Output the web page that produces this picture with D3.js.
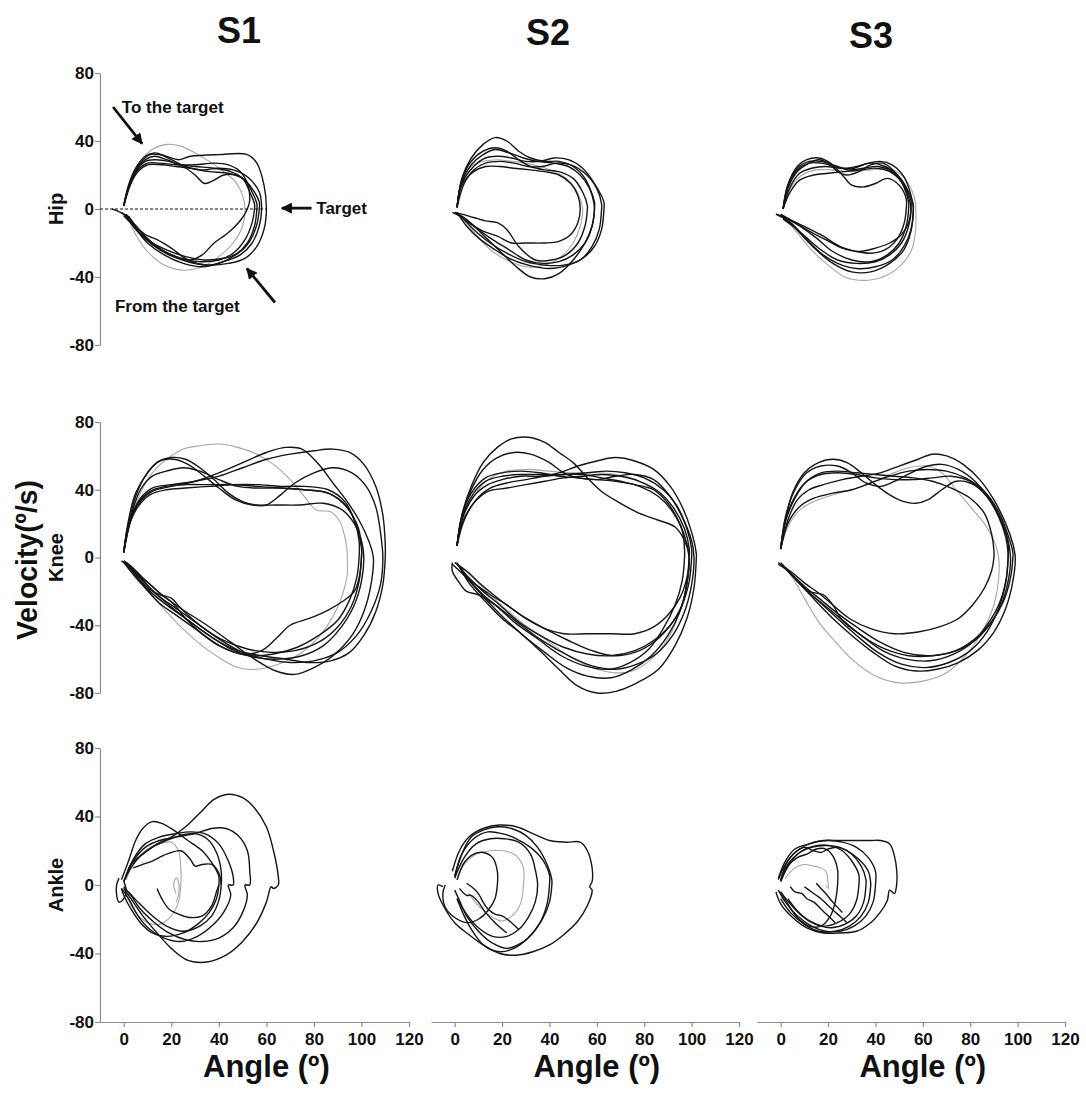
<!DOCTYPE html>
<html>
<head>
<meta charset="utf-8">
<script src="https://cdn.jsdelivr.net/npm/d3@7"></script>
<style>
  body { margin: 0; background: #fff; }
  text { font-family: "Liberation Sans", Arial, sans-serif; font-weight: bold; fill: #111; }
</style>
</head>
<body>
<svg id="chart" width="1086" height="1097"></svg>
<script>
// ---- data (angle in deg, velocity in deg/s) ----
var subjects = ["S1", "S2", "S3"];
var joints = ["Hip", "Knee", "Ankle"];
var angleTicks = [0, 20, 40, 60, 80, 100, 120];
var velocityTicks = [-80, -40, 0, 40, 80];

var hipS1 = [
  [[0,2],[2,12],[5,22],[9,29],[13,31],[18,29],[24,26],[30,25],[38,24],[45,22],[50,18],[53,10],[55,3],[55,0],[54,-8],[51,-18],[46,-26],[40,-30],[32,-31],[24,-29],[16,-24],[9,-16],[4,-8],[1,-3]],
  [[0,2],[2,14],[5,24],[9,31],[13,33],[18,31],[23,29],[28,31],[40,32],[52,32],[56,27],[59,14],[60,0],[59,-12],[56,-22],[51,-29],[44,-32],[36,-33],[27,-31],[19,-27],[12,-21],[6,-13],[2,-5],[0,-3]],
  [[0,2],[2,13],[5,22],[9,28],[13,29],[19,28],[25,25],[30,20],[34,15],[38,17],[42,20],[47,20],[51,17],[54,10],[56,3],[56,0],[55,-10],[52,-20],[47,-27],[40,-32],[33,-34],[25,-32],[17,-27],[10,-20],[4,-10],[0,-4]],
  [[0,2],[3,15],[6,23],[10,27],[15,27],[22,26],[30,26],[38,27],[44,26],[49,22],[52,15],[53,5],[52,0],[50,-5],[47,-10],[43,-15],[38,-20],[33,-27],[28,-30],[22,-28],[16,-24],[10,-18],[5,-12],[1,-4],[-3,-1],[-5,0]],
  [[0,2],[3,17],[7,27],[11,32],[15,32],[20,29],[26,25],[32,23],[40,24],[46,23],[52,19],[57,10],[58,0],[57,-10],[54,-20],[49,-27],[42,-31],[35,-33],[27,-30],[20,-23],[14,-18],[9,-15],[5,-10],[2,-4]],
  [[0,2],[2,12],[6,22],[10,26],[16,26],[22,25],[28,24],[36,22],[44,21],[50,18],[54,12],[57,4],[57,0],[56,-9],[53,-19],[48,-26],[42,-29],[34,-30],[26,-28],[18,-24],[11,-19],[6,-13],[2,-6],[-1,-2]]
];
var hipS1Gray = [
  [[0,2],[3,16],[7,28],[12,35],[18,38],[24,37],[30,33],[36,28],[42,22],[47,16],[50,8],[51,0],[50,-10],[46,-20],[40,-28],[33,-34],[25,-36],[17,-33],[10,-25],[5,-15],[2,-6]]
];

var hipS2 = [
  [[1,1],[3,18],[7,30],[12,38],[17,42],[22,40],[27,34],[32,30],[38,28],[44,28],[50,25],[55,18],[58,8],[59,0],[58,-10],[55,-20],[50,-30],[44,-38],[38,-41],[32,-40],[26,-34],[20,-26],[14,-18],[8,-10],[3,-5],[1,-3]],
  [[1,1],[3,16],[7,26],[12,32],[17,35],[23,33],[29,30],[35,28],[42,27],[48,25],[53,20],[57,12],[59,4],[59,0],[58,-10],[55,-20],[50,-27],[44,-31],[37,-32],[30,-30],[23,-24],[16,-18],[9,-11],[4,-5],[0,-2]],
  [[1,1],[4,15],[8,23],[13,27],[19,28],[25,27],[31,25],[37,25],[43,27],[49,26],[55,21],[60,12],[62,3],[62,0],[61,-12],[58,-22],[53,-30],[46,-33],[38,-33],[30,-31],[22,-26],[15,-20],[8,-12],[3,-5],[-1,-2]],
  [[1,1],[3,14],[8,22],[13,25],[19,25],[25,24],[32,23],[38,22],[44,20],[49,15],[52,8],[53,0],[52,-8],[49,-15],[44,-19],[38,-20],[30,-20],[24,-20],[18,-16],[12,-13],[7,-9],[3,-5],[1,-2]],
  [[1,1],[3,17],[7,28],[12,34],[17,36],[22,34],[27,29],[32,25],[38,23],[44,22],[50,18],[54,10],[56,2],[56,0],[55,-10],[52,-20],[47,-27],[41,-30],[34,-30],[27,-22],[22,-12],[18,-8],[13,-7],[8,-5],[3,-3],[0,-2]],
  [[1,1],[3,15],[8,25],[13,30],[18,31],[24,30],[30,28],[36,28],[42,30],[48,29],[54,24],[59,15],[63,4],[63,0],[62,-12],[59,-22],[54,-29],[48,-33],[40,-35],[31,-33],[23,-29],[16,-23],[10,-17],[5,-10],[2,-4]]
];
var hipS2Gray = [
  [[1,1],[3,16],[7,25],[12,28],[18,29],[24,28],[30,27],[36,25],[42,22],[48,17],[52,9],[54,0],[53,-10],[50,-20],[45,-28],[38,-33],[30,-34],[22,-30],[15,-24],[9,-15],[4,-7],[1,-3]]
];

var hipS3 = [
  [[1,0],[3,12],[7,22],[12,27],[16,29],[20,27],[24,22],[28,20],[33,22],[38,26],[43,27],[48,22],[52,13],[54,4],[54,0],[53,-10],[50,-20],[45,-27],[38,-31],[30,-30],[22,-25],[15,-17],[8,-10],[2,-5],[-2,-3]],
  [[1,0],[3,14],[7,25],[11,29],[16,30],[21,27],[26,20],[30,14],[35,13],[40,15],[45,18],[50,14],[53,6],[53,0],[52,-9],[49,-18],[44,-24],[38,-26],[32,-25],[25,-22],[18,-16],[11,-11],[5,-7],[0,-3]],
  [[1,0],[4,13],[8,21],[13,24],[19,25],[25,24],[31,24],[37,27],[42,28],[47,26],[52,19],[55,8],[56,0],[55,-12],[52,-22],[47,-30],[40,-34],[32,-35],[24,-32],[17,-26],[11,-18],[5,-9],[0,-4]],
  [[1,0],[4,10],[8,17],[14,20],[20,21],[27,22],[34,23],[40,24],[46,22],[51,16],[54,7],[55,0],[54,-10],[51,-20],[46,-27],[40,-31],[32,-32],[24,-30],[17,-24],[11,-17],[6,-11],[1,-6]],
  [[1,0],[3,13],[7,23],[12,27],[17,27],[23,25],[29,23],[35,24],[41,25],[47,22],[52,14],[55,5],[55,0],[54,-8],[51,-15],[46,-20],[40,-23],[33,-25],[26,-23],[19,-18],[12,-13],[6,-8],[1,-5]],
  [[1,0],[3,14],[7,24],[12,28],[17,28],[22,26],[27,24],[32,25],[38,27],[44,25],[50,19],[54,10],[56,2],[56,0],[55,-13],[52,-24],[46,-32],[38,-37],[30,-37],[22,-32],[15,-24],[8,-14],[3,-7],[-2,-3]]
];
var hipS3Gray = [
  [[1,0],[4,12],[9,20],[15,23],[22,23],[30,22],[38,23],[45,24],[51,20],[55,12],[57,3],[57,0],[57,-12],[55,-25],[50,-34],[43,-40],[35,-42],[27,-40],[20,-33],[13,-24],[7,-14],[2,-6]]
];

var kneeS1 = [
  [[0,3],[2,20],[5,36],[9,48],[14,56],[20,59],[26,58],[32,53],[38,46],[44,38],[50,33],[56,31],[64,31],[74,31],[84,32],[92,28],[97,20],[100,10],[101,0],[100,-14],[97,-28],[91,-42],[84,-52],[75,-58],[65,-60],[55,-59],[45,-54],[35,-45],[26,-36],[18,-28],[11,-20],[5,-11],[1,-4],[-1,-2]],
  [[0,3],[2,22],[5,38],[10,50],[15,57],[21,58],[27,55],[33,49],[40,41],[47,34],[54,31],[60,31],[66,37],[72,44],[80,50],[88,53],[96,50],[102,42],[106,30],[108,15],[109,0],[108,-16],[104,-32],[98,-46],[90,-56],[80,-61],[70,-62],[60,-60],[50,-56],[40,-48],[30,-38],[22,-30],[14,-22],[7,-12],[2,-5],[0,-2]],
  [[0,3],[3,22],[7,33],[12,39],[20,42],[30,45],[40,50],[50,56],[60,62],[68,65],[75,64],[82,55],[88,44],[94,33],[99,22],[103,10],[105,0],[104,-16],[101,-32],[96,-46],[88,-58],[80,-65],[72,-69],[64,-67],[55,-60],[45,-50],[35,-40],[25,-31],[16,-22],[8,-12],[3,-5],[0,-2]],
  [[0,3],[3,23],[7,35],[12,41],[20,43],[30,45],[40,48],[50,53],[60,58],[70,61],[80,63],[88,64],[95,62],[101,55],[106,42],[109,25],[110,8],[110,0],[109,-16],[106,-32],[101,-46],[95,-56],[87,-61],[78,-62],[68,-60],[58,-58],[48,-55],[38,-48],[28,-38],[19,-28],[11,-18],[5,-9],[1,-3]],
  [[0,3],[2,20],[6,32],[11,39],[18,42],[26,43],[36,43],[46,43],[56,42],[66,41],[76,40],[86,38],[93,31],[98,20],[100,8],[100,0],[99,-14],[96,-28],[90,-41],[82,-50],[72,-55],[62,-56],[52,-54],[42,-49],[32,-40],[24,-30],[20,-24],[16,-22],[12,-17],[6,-10],[1,-3]],
  [[0,3],[3,24],[7,40],[12,48],[18,51],[25,53],[32,51],[40,46],[48,42],[56,41],[66,41],[76,40],[86,38],[94,30],[98,18],[100,6],[100,0],[99,-12],[97,-20],[92,-26],[86,-31],[78,-36],[70,-40],[64,-48],[58,-55],[50,-57],[40,-52],[30,-42],[22,-34],[15,-27],[9,-18],[4,-10],[0,-3]],
  [[0,3],[2,18],[6,30],[11,37],[18,40],[26,41],[36,42],[46,43],[56,43],[66,42],[76,42],[86,40],[93,33],[97,22],[99,10],[99,0],[98,-12],[95,-25],[90,-37],[82,-46],[73,-53],[63,-57],[53,-58],[43,-54],[33,-45],[26,-36],[22,-29],[18,-24],[11,-19],[5,-10],[1,-3]]
];
var kneeS1Gray = [
  [[0,3],[3,22],[7,38],[12,50],[18,58],[25,64],[32,66],[40,67],[48,65],[56,61],[63,55],[70,46],[76,36],[81,28],[87,27],[91,21],[93,12],[94,4],[94,0],[94,-10],[92,-22],[88,-35],[82,-47],[74,-57],[65,-63],[56,-66],[48,-65],[40,-59],[32,-51],[24,-41],[16,-29],[9,-18],[4,-9],[0,-3]]
];

var kneeS2 = [
  [[1,7],[3,25],[7,42],[12,56],[18,65],[24,70],[31,71],[38,68],[44,62],[50,56],[56,47],[62,39],[70,32],[78,26],[86,22],[93,18],[97,10],[99,0],[98,-14],[96,-28],[91,-40],[84,-50],[76,-56],[67,-58],[58,-55],[48,-49],[38,-42],[28,-34],[20,-26],[12,-17],[5,-8],[0,-3]],
  [[1,7],[3,24],[7,40],[12,52],[18,59],[25,62],[32,61],[40,56],[46,50],[52,47],[60,46],[68,48],[76,49],[84,46],[91,36],[96,24],[100,10],[101,0],[100,-16],[97,-32],[92,-46],[85,-57],[77,-63],[68,-66],[58,-64],[48,-58],[38,-50],[28,-40],[20,-31],[12,-22],[5,-12],[-1,-4]],
  [[1,7],[3,22],[8,36],[14,43],[20,46],[28,48],[36,48],[44,50],[52,54],[60,57],[68,59],[76,57],[84,52],[91,42],[96,30],[100,15],[102,2],[102,0],[101,-18],[98,-36],[93,-52],[86,-66],[77,-74],[68,-79],[60,-80],[52,-76],[44,-66],[36,-55],[28,-45],[20,-36],[13,-26],[6,-15],[2,-5]],
  [[1,7],[3,23],[8,38],[13,45],[20,48],[28,49],[36,49],[46,49],[56,50],[64,51],[72,50],[80,47],[88,40],[94,30],[98,17],[100,5],[100,0],[99,-14],[96,-28],[91,-40],[84,-49],[76,-55],[66,-58],[56,-57],[46,-53],[36,-46],[27,-38],[19,-28],[12,-20],[6,-12],[1,-4]],
  [[1,7],[3,20],[8,32],[14,39],[22,41],[30,43],[38,45],[46,47],[54,48],[62,49],[70,48],[78,45],[86,39],[92,30],[97,17],[99,5],[99,0],[98,-12],[95,-24],[90,-34],[84,-41],[76,-45],[66,-45],[56,-45],[46,-45],[38,-42],[30,-36],[22,-28],[15,-22],[8,-15],[3,-8],[1,-3]],
  [[1,7],[4,22],[9,34],[15,41],[22,44],[30,46],[38,48],[46,49],[54,49],[62,47],[70,45],[78,42],[86,36],[92,27],[96,16],[97,5],[97,0],[96,-14],[93,-28],[88,-42],[82,-54],[74,-62],[65,-66],[55,-64],[45,-58],[35,-48],[25,-38],[17,-28],[10,-22],[5,-20],[2,-15],[-1,-8],[-1,-3]],
  [[1,7],[3,24],[7,38],[13,47],[20,50],[28,51],[36,50],[44,48],[52,47],[60,46],[68,45],[76,43],[84,40],[90,32],[95,20],[98,8],[99,0],[98,-16],[95,-32],[90,-46],[83,-58],[75,-66],[66,-71],[56,-70],[47,-65],[38,-56],[29,-46],[21,-36],[14,-26],[7,-15],[2,-5]]
];
var kneeS2Gray = [
  [[1,7],[3,22],[8,36],[14,46],[22,51],[30,52],[40,51],[50,50],[60,50],[68,49],[76,46],[84,40],[90,32],[95,20],[98,8],[99,0],[98,-16],[95,-32],[90,-48],[83,-60],[75,-67],[67,-68],[58,-65],[48,-58],[38,-48],[28,-38],[18,-26],[10,-15],[3,-6]]
];

var kneeS3 = [
  [[0,5],[2,22],[5,38],[10,50],[16,56],[22,58],[28,56],[34,50],[40,43],[46,37],[52,33],[57,32],[62,34],[68,40],[74,45],[80,44],[86,38],[91,28],[95,15],[97,0],[96,-14],[93,-28],[88,-40],[81,-50],[72,-56],[62,-58],[52,-56],[42,-50],[32,-41],[24,-33],[17,-25],[10,-17],[4,-9],[-1,-3]],
  [[0,5],[2,24],[6,40],[11,50],[17,54],[24,54],[30,50],[36,44],[42,42],[48,45],[55,50],[62,54],[68,55],[75,52],[82,45],[88,35],[93,22],[96,8],[96,0],[95,-15],[92,-30],[87,-44],[80,-55],[71,-62],[61,-65],[51,-63],[41,-56],[32,-46],[24,-36],[17,-27],[10,-18],[4,-9],[-1,-4]],
  [[0,5],[3,22],[7,34],[12,40],[18,43],[26,46],[34,48],[42,50],[50,54],[58,58],[64,61],[70,60],[77,55],[84,46],[90,34],[95,20],[98,8],[99,0],[98,-14],[95,-30],[90,-44],[83,-55],[75,-62],[66,-66],[57,-67],[48,-64],[39,-56],[30,-46],[22,-36],[15,-26],[9,-17],[3,-8],[0,-3]],
  [[0,5],[3,20],[8,30],[14,35],[22,38],[30,40],[38,44],[46,48],[54,51],[62,52],[70,51],[78,47],[86,39],[92,27],[96,13],[98,3],[98,0],[97,-12],[94,-26],[89,-38],[82,-48],[74,-55],[64,-58],[54,-58],[44,-54],[35,-47],[27,-38],[20,-30],[13,-22],[7,-14],[2,-6]],
  [[0,5],[2,21],[6,35],[11,45],[17,50],[24,51],[32,50],[40,49],[48,48],[56,47],[64,45],[72,41],[80,35],[86,26],[89,14],[90,4],[90,0],[89,-8],[86,-18],[81,-28],[75,-36],[67,-41],[58,-44],[48,-45],[38,-42],[29,-36],[22,-28],[16,-21],[10,-15],[5,-9],[1,-5]],
  [[0,5],[2,22],[6,36],[11,45],[17,49],[24,50],[32,49],[40,47],[48,46],[56,46],[64,47],[72,48],[80,45],[87,36],[92,24],[95,12],[96,2],[96,0],[95,-14],[92,-28],[87,-40],[81,-50],[73,-57],[63,-61],[53,-60],[43,-55],[34,-46],[26,-37],[22,-28],[18,-22],[12,-20],[6,-12],[1,-5]]
];
var kneeS3Gray = [
  [[0,5],[3,18],[8,28],[14,33],[22,37],[30,40],[38,44],[46,49],[54,53],[62,54],[68,50],[74,40],[80,30],[86,20],[90,10],[92,0],[92,-12],[90,-28],[85,-44],[78,-58],[70,-68],[60,-73],[50,-74],[40,-70],[30,-60],[22,-48],[16,-38],[10,-24],[5,-12],[1,-4]]
];

var ankleS1 = [
  [[1,5],[3,12],[8,18],[14,24],[20,28],[26,34],[32,42],[38,50],[44,53],[50,51],[55,45],[60,34],[63,20],[65,5],[65,0],[63,-2],[62,-1],[60,-10],[56,-22],[50,-33],[43,-41],[35,-45],[27,-44],[20,-37],[14,-28],[8,-18],[3,-8],[0,-2]],
  [[0,2],[4,14],[9,22],[15,26],[22,28],[30,30],[37,33],[43,33],[48,29],[52,20],[53,8],[53,0],[51,0],[52,-6],[50,-16],[46,-25],[40,-31],[33,-33],[26,-32],[19,-28],[13,-22],[7,-14],[3,-6],[0,-1]],
  [[0,2],[4,15],[9,24],[15,28],[22,30],[28,31],[34,30],[40,24],[44,14],[46,5],[46,0],[44,0],[45,-6],[42,-16],[37,-24],[31,-30],[24,-33],[17,-31],[11,-26],[6,-18],[2,-8],[-1,-2]],
  [[-1,3],[2,14],[5,26],[8,33],[12,37],[16,36],[21,32],[27,26],[33,20],[37,13],[40,5],[40,0],[39,-8],[36,-16],[31,-23],[25,-28],[18,-30],[12,-28],[7,-22],[3,-14],[0,-6],[-1,-2]],
  [[0,2],[3,10],[7,17],[12,22],[18,26],[24,29],[30,30],[35,27],[39,19],[41,8],[41,0],[40,-9],[37,-18],[32,-24],[25,-27],[18,-24],[12,-18],[6,-10],[2,-4]],
  [[14,-2],[16,-8],[19,-14],[23,-17],[28,-19],[33,-18],[37,-12],[39,-4],[40,0]],
  [[4,10],[8,12],[12,14],[18,18],[24,20],[28,15],[30,11],[33,12],[37,12],[40,7],[41,0]],
  [[-2,4],[-3,0],[-3,-6],[-2,-10],[0,-8],[1,-3],[0,2]]
];
var ankleS1Gray = [
  [[1,3],[4,12],[9,20],[15,24],[20,25],[23,20],[24,10],[24,0],[23,-10],[20,-18],[15,-23],[10,-22],[5,-16],[2,-9],[0,-2]],
  [[22,-5],[21,0],[22,4],[23,2],[23,-6],[22,-10]]
];

var ankleS2 = [
  [[-1,8],[2,20],[6,28],[12,33],[19,35],[26,34],[33,30],[40,26],[47,25],[53,25],[56,20],[58,10],[58,2],[57,-1],[58,-3],[56,-12],[52,-21],[46,-29],[40,-35],[33,-39],[26,-41],[19,-40],[12,-35],[6,-29],[0,-22],[-4,-14],[-7,-5],[-7,0],[-5,-1]],
  [[0,5],[3,18],[7,28],[12,32],[18,34],[24,33],[30,29],[35,22],[39,12],[41,3],[41,0],[40,-10],[37,-20],[33,-28],[28,-34],[22,-37],[16,-34],[10,-27],[5,-18],[2,-9],[0,-3]],
  [[0,4],[4,16],[9,24],[15,27],[21,27],[27,25],[32,18],[34,9],[35,0],[34,-10],[31,-19],[27,-26],[22,-30],[16,-30],[10,-25],[5,-17],[1,-8]],
  [[0,5],[3,18],[8,27],[14,31],[20,30],[26,27],[32,22],[37,15],[40,6],[40,0],[39,-11],[36,-22],[31,-31],[25,-37],[19,-39],[13,-36],[8,-28],[4,-18],[1,-8]],
  [[1,3],[4,13],[8,18],[12,19],[16,16],[18,8],[18,0],[17,-8],[14,-15],[10,-20],[5,-22],[0,-19],[-4,-13],[-5,-5],[-4,0]],
  [[5,1],[8,-2],[10,-5],[12,-10],[14,-14],[17,-17],[20,-18],[24,-22],[27,-26]],
  [[2,-2],[5,-6],[7,-6],[10,-10],[13,-16],[17,-22],[22,-28]]
];
var ankleS2Gray = [
  [[1,3],[4,12],[9,18],[15,20],[21,20],[26,17],[29,10],[29,0],[28,-10],[25,-17],[20,-21],[15,-18],[10,-12],[6,-5]]
];

var ankleS3 = [
  [[-1,4],[2,14],[6,21],[12,24],[18,26],[25,26],[32,26],[38,26],[42,26],[46,24],[48,17],[49,8],[49,1],[48,-5],[46,-3],[45,-9],[42,-16],[38,-22],[32,-27],[25,-28],[18,-28],[11,-25],[5,-19],[0,-11],[-2,-4]],
  [[0,3],[3,14],[8,21],[14,25],[20,26],[26,25],[32,22],[37,16],[40,8],[40,0],[39,-10],[36,-18],[31,-24],[25,-27],[19,-27],[13,-24],[7,-18],[2,-10],[-1,-3]],
  [[0,2],[3,12],[8,19],[13,22],[19,23],[25,22],[30,18],[34,11],[36,3],[36,0],[35,-10],[32,-18],[27,-23],[21,-25],[15,-23],[9,-18],[4,-11],[0,-4]],
  [[0,2],[4,13],[9,20],[15,23],[21,23],[26,20],[30,14],[33,6],[33,0],[32,-9],[29,-17],[24,-22],[18,-24],[12,-21],[7,-15],[3,-8]],
  [[0,3],[3,11],[7,16],[11,18],[15,21],[19,21],[22,17],[24,9],[24,0],[23,-10],[21,-18],[17,-24],[12,-24],[7,-19],[3,-11],[0,-4]],
  [[-1,3],[2,12],[6,19],[10,22],[14,20],[17,19],[20,21],[24,22],[28,20],[33,15],[37,8],[38,1],[38,0],[37,-10],[34,-18],[29,-24],[23,-27],[16,-27],[10,-23],[4,-16],[0,-8]],
  [[4,-1],[6,-4],[9,-5],[11,-8],[14,-10],[17,-14],[20,-18],[23,-22]],
  [[10,-1],[12,-3],[15,-6],[17,-8],[20,-12],[24,-17],[28,-22]],
  [[15,1],[17,-2],[19,-5],[22,-10],[26,-16]]
];
var ankleS3Gray = [
  [[2,4],[6,10],[10,12],[14,11],[17,10],[19,8],[20,2],[20,-2],[19,0]]
];

// annotations for the S1 hip panel, in data units
var annotationTexts = [
  { text: "To the target", at: [-0.8, 56.5] },
  { text: "Target", at: [81, -3] },
  { text: "From the target", at: [-3.7, -60.5] }
];
var annotationArrows = [
  [[-4.5, 60], [7.7, 38.5]],
  [[79, 0.5], [66.5, 0.5]],
  [[63.6, -55], [51.8, -35]]
];

// ---- layout ----
var colRanges = [[100, 409], [431, 739], [757, 1065]];
var rowRanges = [[345, 73], [693, 422], [1022, 748]];
var titlePos = [[239, 43], [548, 45], [871, 48]];
var trials = {
  Hip:   { S1: [hipS1, hipS1Gray],     S2: [hipS2, hipS2Gray],     S3: [hipS3, hipS3Gray] },
  Knee:  { S1: [kneeS1, kneeS1Gray],   S2: [kneeS2, kneeS2Gray],   S3: [kneeS3, kneeS3Gray] },
  Ankle: { S1: [ankleS1, ankleS1Gray], S2: [ankleS2, ankleS2Gray], S3: [ankleS3, ankleS3Gray] }
};

var svg = d3.select("#chart");
var defs = svg.append("defs");
defs.append("marker")
  .attr("id", "head")
  .attr("viewBox", "0 0 10 10")
  .attr("refX", 9).attr("refY", 5)
  .attr("markerWidth", 4).attr("markerHeight", 4)
  .attr("markerUnits", "strokeWidth")
  .attr("orient", "auto")
  .append("path").attr("d", "M0,0 L10,5 L0,10 z").attr("fill", "#111");

function plain(d) { return String(d); } // keeps the ascii hyphen for negatives

function styleAxis(g) {
  g.selectAll("path, line").attr("stroke", "#8c8c8c").attr("stroke-width", 1.2);
  g.selectAll("text").attr("font-size", 17).attr("fill", "#111")
    .attr("font-family", "'Liberation Sans', Arial, sans-serif").attr("font-weight", "bold");
}

joints.forEach(function (joint, r) {
  subjects.forEach(function (subj, c) {
    var x = d3.scaleLinear().domain([-10, 120]).range(colRanges[c]);
    var y = d3.scaleLinear().domain([-80, 80]).range(rowRanges[r]);
    var g = svg.append("g").attr("class", "panel");

    if (c === 0) {
      var ya = g.append("g")
        .attr("transform", "translate(" + colRanges[c][0] + ",0)")
        .call(d3.axisLeft(y).tickValues(velocityTicks).tickFormat(plain)
          .tickSize(5).tickSizeOuter(0).tickPadding(1));
      styleAxis(ya);
    }
    if (r === joints.length - 1) {
      var xa = g.append("g")
        .attr("transform", "translate(0," + rowRanges[r][0] + ")")
        .call(d3.axisBottom(x).tickValues(angleTicks).tickFormat(plain)
          .tickSize(5).tickSizeOuter(0).tickPadding(6));
      styleAxis(xa);
    }

    var line = d3.line()
      .x(function (d) { return x(d[0]); })
      .y(function (d) { return y(d[1]); })
      .curve(d3.curveCatmullRom.alpha(0.5));

    var sets = trials[joint][subj];
    g.selectAll("path.gray").data(sets[1]).enter().append("path")
      .attr("class", "gray")
      .attr("d", line).attr("fill", "none")
      .attr("stroke", "#a6a6a6").attr("stroke-width", 1.1);
    g.selectAll("path.trial").data(sets[0]).enter().append("path")
      .attr("class", "trial")
      .attr("d", line).attr("fill", "none")
      .attr("stroke", "#151515").attr("stroke-width", 1.4);

    if (r === 0 && c === 0) {
      g.append("line")
        .attr("x1", x(-10)).attr("x2", x(60))
        .attr("y1", y(0)).attr("y2", y(0))
        .attr("stroke", "#111").attr("stroke-width", 1.2)
        .attr("stroke-dasharray", "3,2");
      g.selectAll("text.note").data(annotationTexts).enter().append("text")
        .attr("class", "note")
        .attr("x", function (d) { return x(d.at[0]); })
        .attr("y", function (d) { return y(d.at[1]); })
        .attr("font-size", 17)
        .text(function (d) { return d.text; });
      g.selectAll("line.arrow").data(annotationArrows).enter().append("line")
        .attr("class", "arrow")
        .attr("x1", function (d) { return x(d[0][0]); })
        .attr("y1", function (d) { return y(d[0][1]); })
        .attr("x2", function (d) { return x(d[1][0]); })
        .attr("y2", function (d) { return y(d[1][1]); })
        .attr("stroke", "#111").attr("stroke-width", 2.8)
        .attr("marker-end", "url(#head)");
    }

    if (c === 0) {
      svg.append("text")
        .attr("transform", "translate(63," + y(0) + ") rotate(-90)")
        .attr("text-anchor", "middle")
        .attr("font-size", 20)
        .text(joint);
    }
    if (r === joints.length - 1) {
      svg.append("text")
        .attr("x", x(60)).attr("y", 1077)
        .attr("text-anchor", "middle")
        .attr("font-size", 31)
        .text("Angle (º)");
    }
    if (r === 0) {
      svg.append("text")
        .attr("x", titlePos[c][0]).attr("y", titlePos[c][1])
        .attr("text-anchor", "middle")
        .attr("font-size", 36)
        .text(subj);
    }
  });
});

svg.append("text")
  .attr("transform", "translate(37,560) rotate(-90)")
  .attr("text-anchor", "middle")
  .attr("font-size", 30)
  .attr("textLength", 160)
  .attr("lengthAdjust", "spacingAndGlyphs")
  .text("Velocity(º/s)");
</script>
</body>
</html>
